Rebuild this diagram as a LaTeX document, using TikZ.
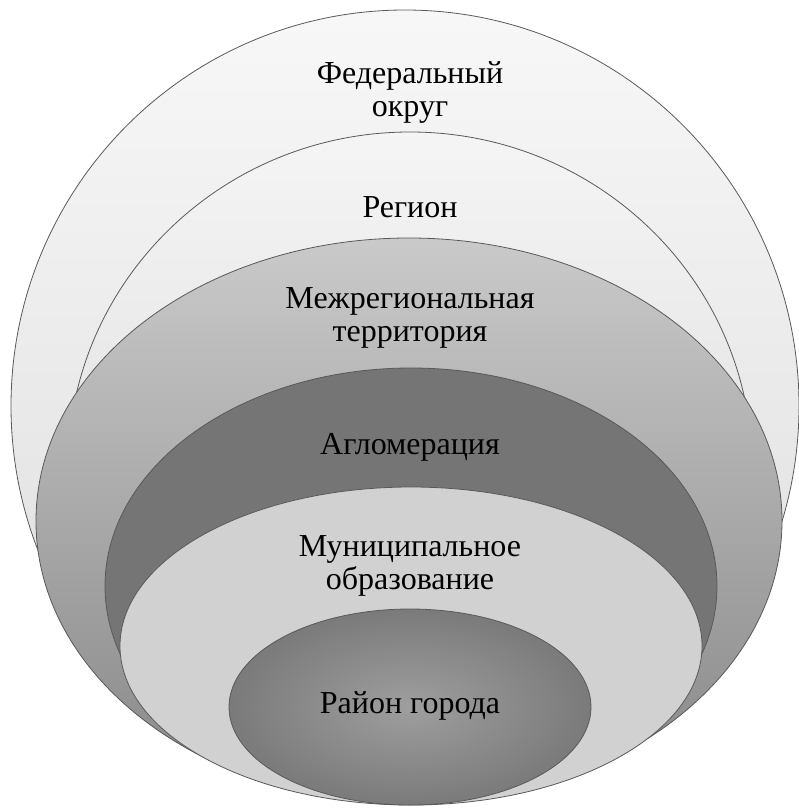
\documentclass[tikz,border=0pt]{standalone}
\usepackage{fontspec}
\setmainfont{Liberation Serif}
\begin{document}
\begin{tikzpicture}[x=1pt,y=-1pt,
  ring/.style={draw=black!65, line width=0.8pt},
  lbl/.style={font=\fontsize{32}{33}\selectfont, align=center, anchor=base, inner sep=0pt, text=black}]
\useasboundingbox (0,0) rectangle (799,809);
% outer: Федеральный округ
\path[ring, top color=black!3, bottom color=black!14] (405,406) ellipse [x radius=394, y radius=396];
% Регион
\path[ring, top color=black!4, bottom color=black!17] (410,468) ellipse [x radius=342, y radius=336];
% Межрегиональная территория
\path[ring, top color=black!21, bottom color=black!47] (409,521) ellipse [x radius=373, y radius=283];
% Агломерация
\path[ring, left color=black!54, middle color=black!45, right color=black!54] (411,586) ellipse [x radius=306, y radius=218];
% Муниципальное образование
\path[ring, fill=black!18] (411,646) ellipse [x radius=291, y radius=159];
% Район города
\path[ring, inner color=black!38, outer color=black!52] (410,707) ellipse [x radius=181, y radius=98];
\node[lbl] (fed) at (410,116) {Федеральный\\округ};
\node[lbl] (reg) at (410,217) {Регион};
\node[lbl] (mezh) at (410,341) {Межрегиональная\\территория};
\node[lbl] (aglo) at (410,454) {Агломерация};
\node[lbl] (mun) at (410,589) {Муниципальное\\образование};
\node[lbl] (rayon) at (410,713) {Район города};
\end{tikzpicture}
\end{document}
